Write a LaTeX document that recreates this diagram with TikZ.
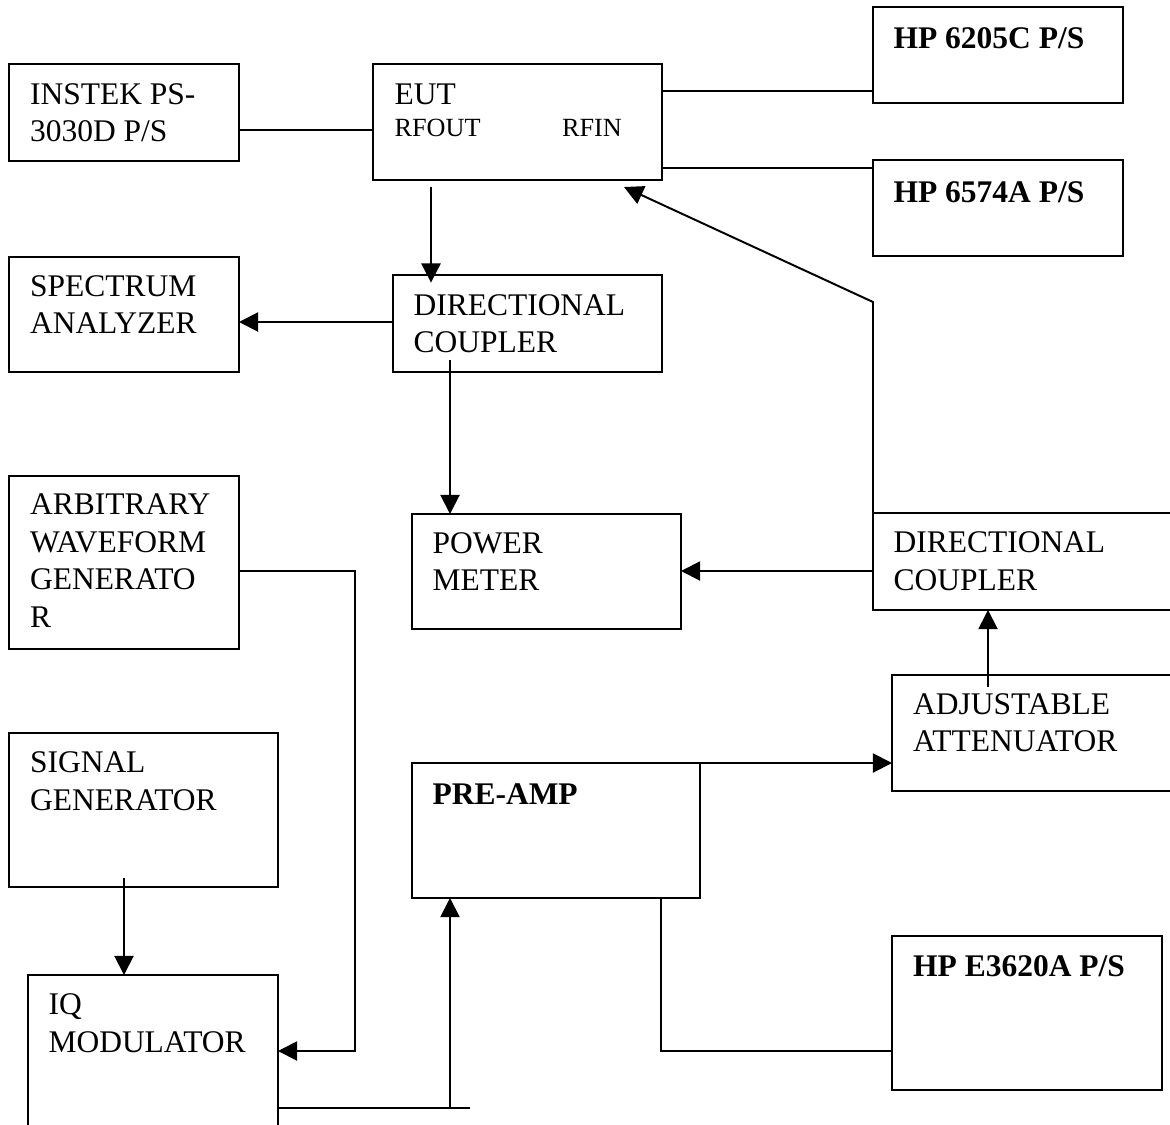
\documentclass[tikz,border=0pt]{standalone}
\usepackage{fontspec}
\setmainfont{Liberation Serif}
\usetikzlibrary{arrows.meta,fit}
\tikzset{
  box/.style={draw, line width=0.75pt, inner sep=0pt, outer sep=0pt, fit={#1}},
  lbl/.style={inner sep=0pt, anchor=base west, font=\fontsize{12}{14.4}\selectfont},
  lblsmall/.style={inner sep=0pt, anchor=base west, font=\fontsize{10}{12}\selectfont},
  lblbold/.style={inner sep=0pt, anchor=base west, font=\fontsize{12}{14.4}\selectfont\bfseries},
  ln/.style={line width=0.75pt},
  arr/.style={line width=0.75pt, -{Triangle[length=7.3pt,width=7.3pt]}}
}
\begin{document}
\begin{tikzpicture}[x=0.381pt, y=-0.381pt]
\useasboundingbox (0,0) rectangle (1170,1124);
\clip (0,0) rectangle (1170,1124);

% boxes
\node[box={(9,64) (239,161)}] (instek) {};
\node[box={(373,64) (662,180)}] (eut) {};
\node[box={(873,7) (1123,103)}] (hp1) {};
\node[box={(873,160) (1123,256)}] (hp2) {};
\node[box={(9,257) (239,372)}] (sa) {};
\node[box={(393,275) (662,372)}] (dc1) {};
\node[box={(412,514) (681,629)}] (pm) {};
\node[box={(9,476) (239,649)}] (arb) {};
\node[box={(873,513) (1195,610)}] (dc2) {};
\node[box={(892,675) (1195,791)}] (adj) {};
\node[box={(9,733) (278,887)}] (sg) {};
\node[box={(28,975) (278,1200)}] (iq) {};
\node[box={(412,763) (700,898)}] (pre) {};
\node[box={(892,936) (1162,1090)}] (hp3) {};

% texts
\node[lbl] (t1a) at (29.5,104) {INSTEK PS-};
\node[lbl] (t1b) at (29.5,141.7) {3030D P/S};
\node[lbl] (t2a) at (394,104) {EUT};
\node[lblsmall] (t2b) at (394,136.7) {RFOUT};
\node[lblsmall] (t2c) at (561.6,136.7) {RFIN};
\node[lblbold] (t3) at (893,48.3) {HP 6205C P/S};
\node[lblbold] (t4) at (893,202.3) {HP 6574A P/S};
\node[lbl] (t5a) at (29.5,296) {SPECTRUM};
\node[lbl] (t5b) at (29.5,333.3) {ANALYZER};
\node[lbl] (t6a) at (413,315) {DIRECTIONAL};
\node[lbl] (t6b) at (413,352.3) {COUPLER};
\node[lbl] (t7a) at (432,553.3) {POWER};
\node[lbl] (t7b) at (432,590.7) {METER};
\node[lbl] (t8a) at (29.5,514.3) {ARBITRARY};
\node[lbl] (t8b) at (29.5,552) {WAVEFORM};
\node[lbl] (t8c) at (29.5,589.7) {GENERATO};
\node[lbl] (t8d) at (29.5,627.4) {R};
\node[lbl] (t9a) at (893,552.7) {DIRECTIONAL};
\node[lbl] (t9b) at (893,590) {COUPLER};
\node[lbl] (t10a) at (912.6,714.3) {ADJUSTABLE};
\node[lbl] (t10b) at (912.6,751.7) {ATTENUATOR};
\node[lbl] (t11a) at (29.5,772.7) {SIGNAL};
\node[lbl] (t11b) at (29.5,810) {GENERATOR};
\node[lbl] (t12a) at (48,1014.5) {IQ};
\node[lbl] (t12b) at (48,1052) {MODULATOR};
\node[lblbold] (t13) at (432,804) {PRE-AMP};
\node[lblbold] (t14) at (912.6,976.7) {HP E3620A P/S};

% helper coordinates
\coordinate (eutdown) at (431,187);
\coordinate (dc1down) at (450,360);
\coordinate (bendtop) at (873,302);
\coordinate (rfin) at (624,187);
\coordinate (adjup) at (988,687);
\coordinate (arbbend1) at (355,571);
\coordinate (arbbend2) at (355,1051);
\coordinate (sgdown) at (124,878);
\coordinate (iqend) at (470,1108);
\coordinate (prein) at (450,1108);
\coordinate (prebend) at (661,1051);

% connectors
\draw[ln] (instek.east |- 0,130) -- (eut.west |- 0,130);
\draw[ln] (eut.east |- 0,91) -- (hp1.west |- 0,91);
\draw[ln] (eut.east |- 0,168) -- (hp2.west |- 0,168);
\draw[arr] (eutdown) -- ([yshift=-2.9pt]dc1.north -| eutdown);
\draw[arr] (dc1.west |- 0,322) -- (sa.east |- 0,322);
\draw[arr] (dc1down) -- (pm.north -| dc1down);
\draw[arr] (dc2.west |- 0,571) -- (pm.east |- 0,571);
\draw[arr] (dc2.north west) -- (dc2.north west |- bendtop) -- (rfin);
\draw[arr] (adjup) -- (dc2.south -| adjup);
\draw[arr] (pre.north east) -- (adj.west |- pre.north east);
\draw[arr] (arb.east |- arbbend1) -- (arbbend1) -- (arbbend2) -- (iq.east |- arbbend2);
\draw[arr] (sgdown) -- (iq.north -| sgdown);
\draw[ln] (iq.east |- iqend) -- (iqend);
\draw[arr] (prein) -- (pre.south -| prein);
\draw[ln] (pre.south -| prebend) -- (prebend) -- (hp3.west |- prebend);
\end{tikzpicture}
\end{document}
